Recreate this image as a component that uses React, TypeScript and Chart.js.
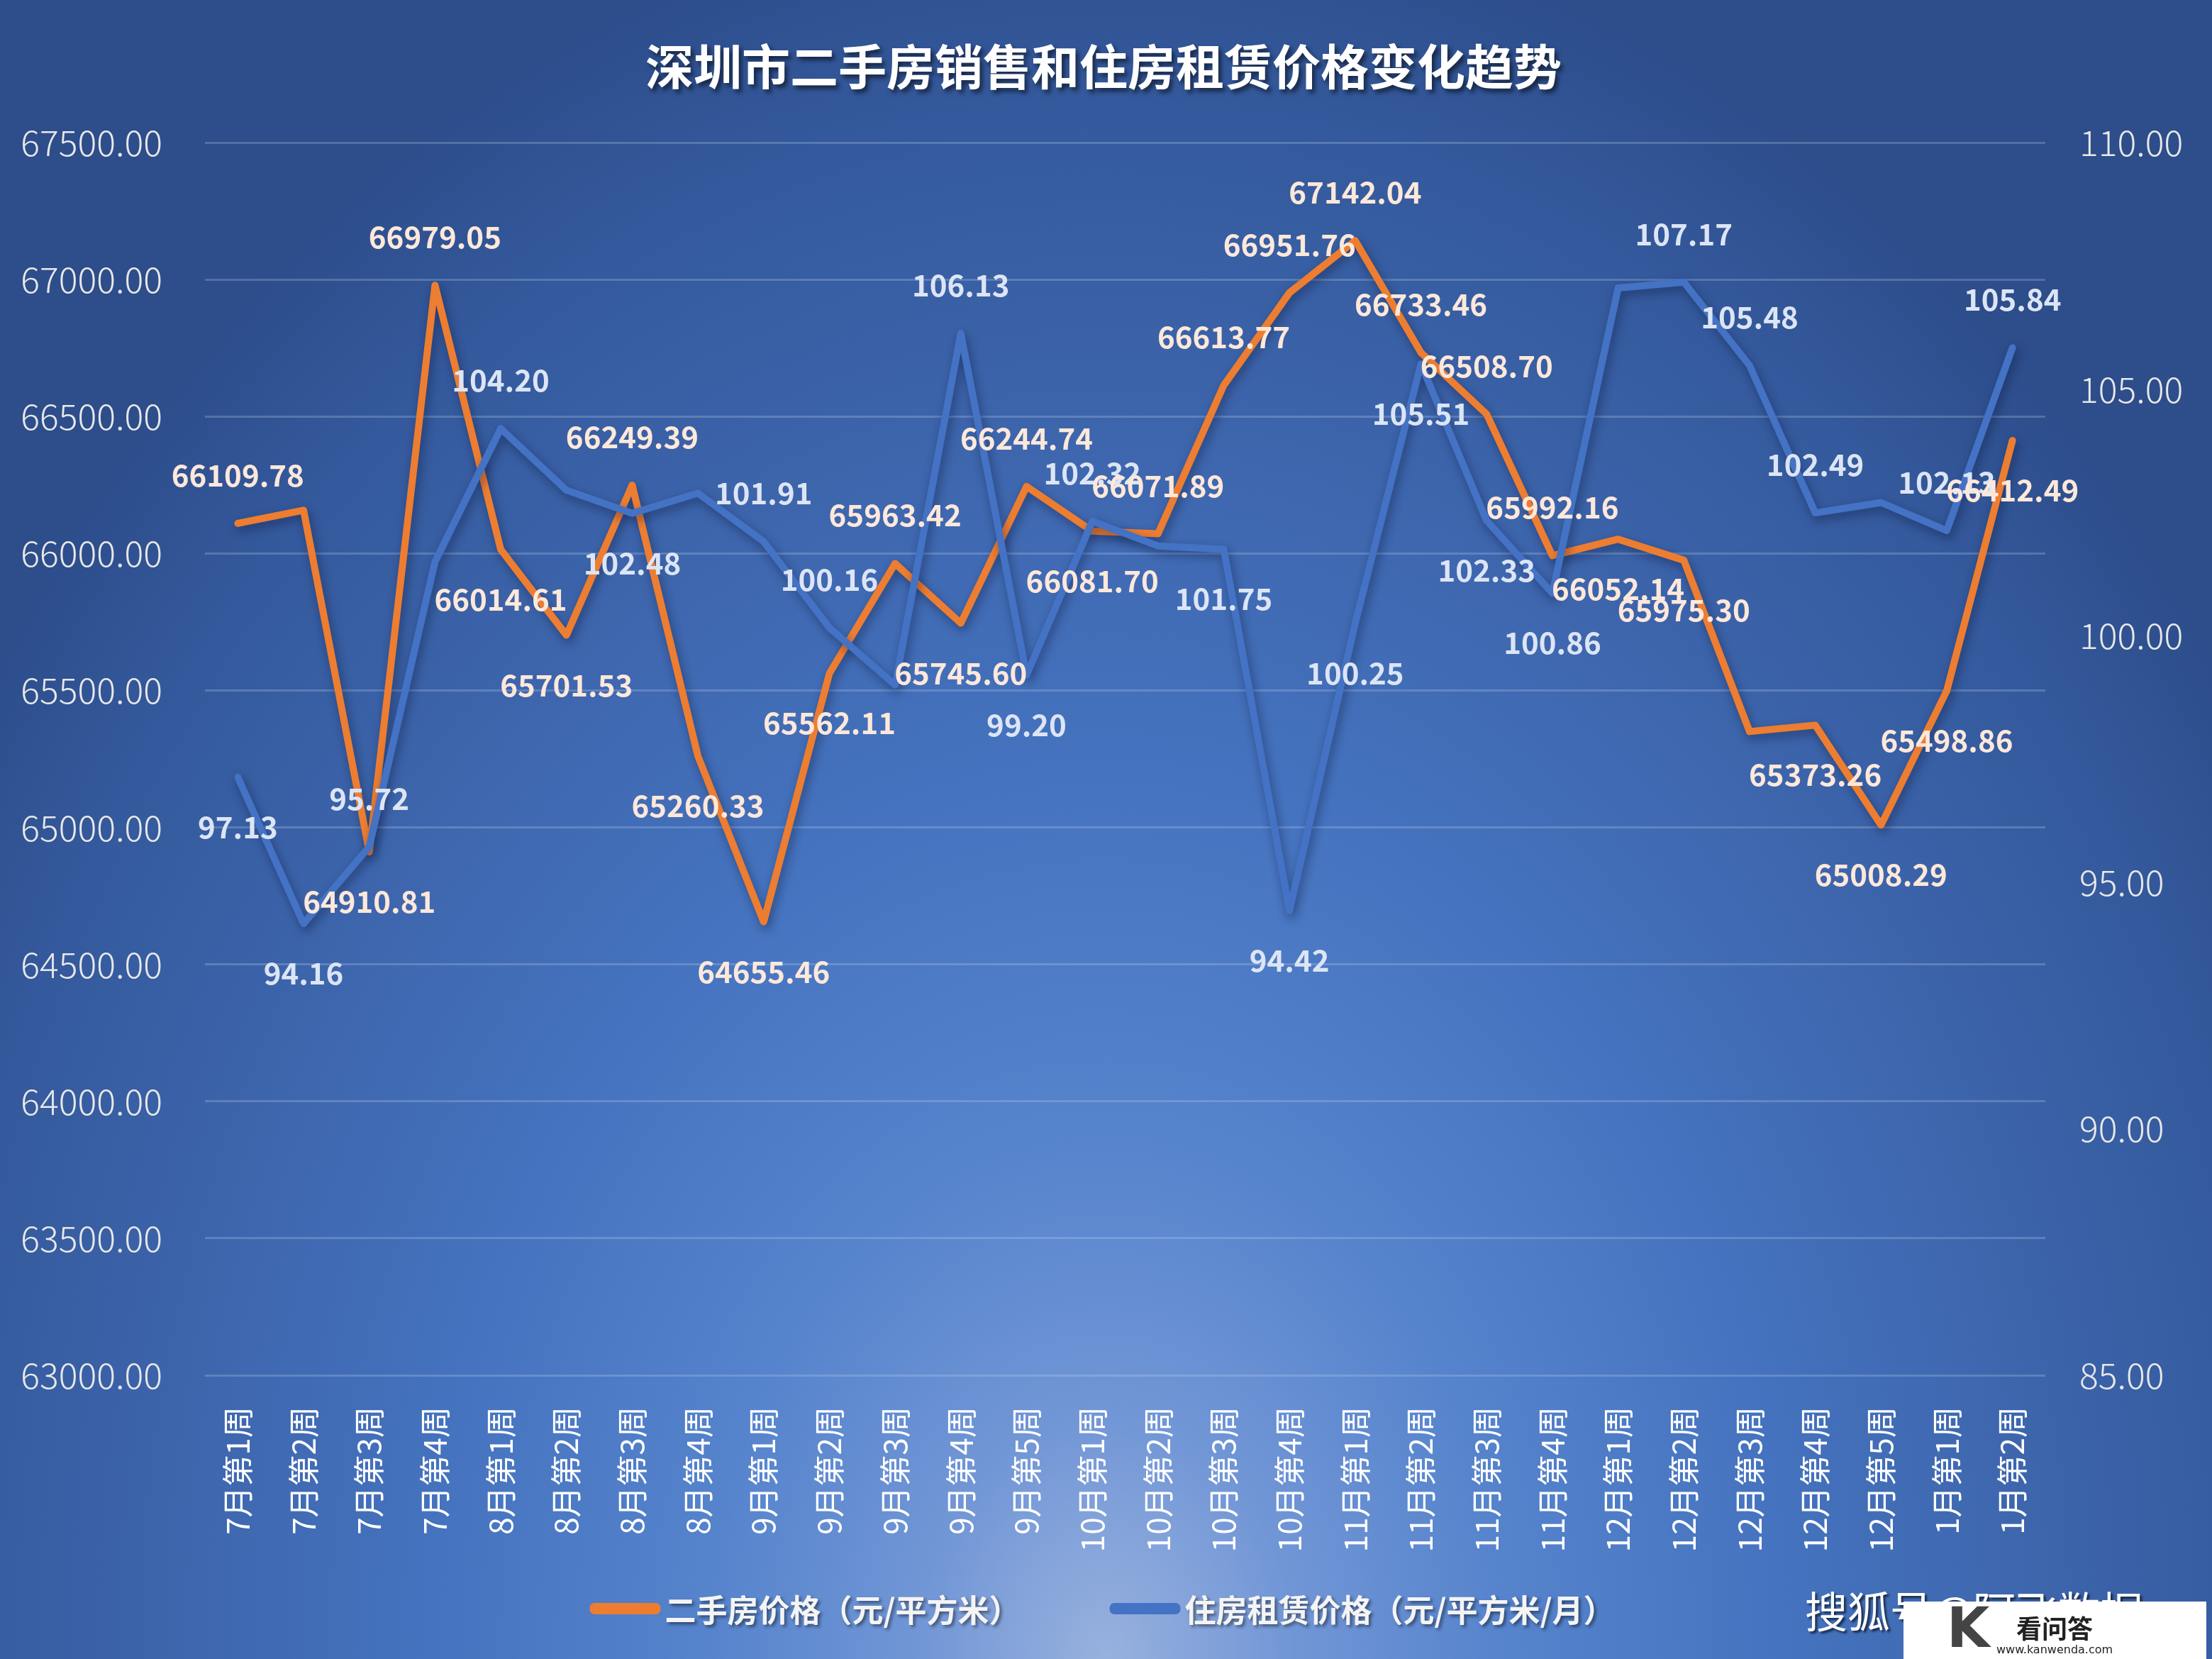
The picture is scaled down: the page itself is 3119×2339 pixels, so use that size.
import React, { useEffect, useRef } from 'react';
import { Chart, registerables } from 'chart.js';

Chart.register(...registerables);

const W = 3119;
const H = 2339;

const categories = [
  '7月第1周', '7月第2周', '7月第3周', '7月第4周',
  '8月第1周', '8月第2周', '8月第3周', '8月第4周',
  '9月第1周', '9月第2周', '9月第3周', '9月第4周', '9月第5周',
  '10月第1周', '10月第2周', '10月第3周', '10月第4周',
  '11月第1周', '11月第2周', '11月第3周', '11月第4周',
  '12月第1周', '12月第2周', '12月第3周', '12月第4周', '12月第5周',
  '1月第1周', '1月第2周',
];

const salePrice = [
  66109.78, 66158.0, 64910.81, 66979.05,
  66014.61, 65701.53, 66249.39, 65260.33,
  64655.46, 65562.11, 65963.42, 65745.6, 66244.74,
  66081.7, 66071.89, 66613.77, 66951.76,
  67142.04, 66733.46, 66508.7, 65992.16,
  66052.14, 65975.3, 65350.0, 65373.26, 65008.29,
  65498.86, 66412.49,
];

const rentPrice = [
  97.13, 94.16, 95.72, 101.5,
  104.2, 102.95, 102.48, 102.89,
  101.91, 100.16, 99.0, 106.13, 99.2,
  102.32, 101.82, 101.75, 94.42,
  100.25, 105.51, 102.33, 100.86,
  107.05, 107.17, 105.48, 102.49, 102.7,
  102.13, 105.84,
];

// where each value label sits relative to its point (null = no label)
const saleLabelPos = [
  'a', null, 'b', 'a', 'b', 'b', 'a', 'b', 'b', 'b', 'a', 'b', 'a',
  'b', 'a', 'a', 'a', 'a', 'a', 'a', 'a', 'b', 'b', null, 'b', 'b', 'b', 'b',
];
const rentLabelPos = [
  'b', 'b', 'a', null, 'a', null, 'b', null, 'a', 'a', null, 'a', 'b',
  'a', null, 'b', 'b', 'b', 'b', 'b', 'b', null, 'a', 'a', 'a', null, 'a', 'a',
];

const saleTicks = { min: 63000, max: 67500, step: 500 };
const rentTicks = { min: 85, max: 110, step: 5 };

const titleText = '深圳市二手房销售和住房租赁价格变化趋势';
const saleName = '二手房价格（元/平方米）';
const rentName = '住房租赁价格（元/平方米/月）';
const watermark = '搜狐号@阿飞数据';

const ORANGE = '#ed7d31';
const BLUE = '#4472c4';
const CJK = '"Noto Sans CJK SC", "Noto Sans", sans-serif';

const shadowPlugin = {
  id: 'lineShadow',
  beforeDatasetDraw(chart: any) {
    const ctx = chart.ctx;
    ctx.save();
    ctx.shadowColor = 'rgba(10,20,50,0.45)';
    ctx.shadowBlur = 14;
    ctx.shadowOffsetX = 3;
    ctx.shadowOffsetY = 6;
  },
  afterDatasetDraw(chart: any) {
    chart.ctx.restore();
  },
};

const valueLabelPlugin = {
  id: 'valueLabels',
  afterDatasetsDraw(chart: any) {
    const ctx = chart.ctx;
    const specs = [
      { ds: 1, pos: rentLabelPos, color: '#dce5f5' },
      { ds: 0, pos: saleLabelPos, color: '#fde8da' },
    ];
    ctx.save();
    ctx.font = `bold 42px ${CJK}`;
    ctx.textAlign = 'center';
    ctx.textBaseline = 'middle';
    for (const s of specs) {
      const meta = chart.getDatasetMeta(s.ds);
      const data = chart.data.datasets[s.ds].data as number[];
      meta.data.forEach((pt: any, i: number) => {
        const p = s.pos[i];
        if (!p) return;
        const y = p === 'a' ? pt.y - 68 : pt.y + 70;
        ctx.fillStyle = s.color;
        ctx.fillText(data[i].toFixed(2), pt.x, y);
      });
    }
    ctx.restore();
  },
};

const decorPlugin = {
  id: 'decor',
  afterDraw(chart: any) {
    const ctx = chart.ctx;
    ctx.save();
    // title
    ctx.font = `bold 68px ${CJK}`;
    ctx.textAlign = 'center';
    ctx.textBaseline = 'middle';
    ctx.shadowColor = 'rgba(0,0,0,0.55)';
    ctx.shadowBlur = 6;
    ctx.shadowOffsetX = 4;
    ctx.shadowOffsetY = 5;
    ctx.fillStyle = '#ffffff';
    ctx.fillText(titleText, 1556, 94);

    // legend
    ctx.font = `bold 44px ${CJK}`;
    ctx.textAlign = 'left';
    const w1 = ctx.measureText(saleName).width;
    const w2 = ctx.measureText(rentName).width;
    const sw = 100;
    const gapIn = 6;
    const gapOut = 126;
    const total = sw + gapIn + w1 + gapOut + sw + gapIn + w2;
    let x = 1554 - total / 2;
    const ly = 2268;
    const items = [
      { c: ORANGE, t: saleName, w: w1 },
      { c: BLUE, t: rentName, w: w2 },
    ];
    for (const it of items) {
      ctx.shadowColor = 'rgba(0,0,0,0)';
      ctx.fillStyle = it.c;
      ctx.beginPath();
      (ctx as any).roundRect(x, ly - 8, sw, 16, 7);
      ctx.fill();
      x += sw + gapIn;
      ctx.shadowColor = 'rgba(0,0,0,0.45)';
      ctx.shadowBlur = 4;
      ctx.shadowOffsetX = 3;
      ctx.shadowOffsetY = 3;
      ctx.fillStyle = '#f4f4f4';
      ctx.fillText(it.t, x, ly + 2);
      x += it.w + gapOut;
    }

    // watermark
    ctx.font = `60px ${CJK}`;
    ctx.fillStyle = '#ffffff';
    ctx.shadowColor = 'rgba(0,0,0,0.6)';
    ctx.shadowBlur = 3;
    ctx.fillText(watermark, 2545, 2272);
    ctx.shadowColor = 'rgba(0,0,0,0)';
    ctx.fillStyle = '#ffffff';
    ctx.fillRect(2684, 2258, 427, 81);
    ctx.fillStyle = '#444444';
    ctx.font = `bold 78px "DejaVu Sans", sans-serif`;
    ctx.fillText('K', 2745, 2302);
    ctx.fillStyle = '#222222';
    ctx.font = `bold 36px ${CJK}`;
    ctx.fillText('看问答', 2843, 2296);
    ctx.font = `16px "DejaVu Sans", sans-serif`;
    ctx.fillText('www.kanwenda.com', 2815, 2327);
    ctx.restore();
  },
};

export default function App() {
  const canvasRef = useRef<HTMLCanvasElement | null>(null);

  useEffect(() => {
    document.body.style.margin = '0';
    const canvas = canvasRef.current;
    if (!canvas) return;
    const tickFont = { family: CJK, size: 50, weight: '300' as any };
    const chart = new Chart(canvas, {
      type: 'line',
      data: {
        labels: categories,
        datasets: [
          {
            label: saleName,
            data: salePrice,
            yAxisID: 'y',
            borderColor: ORANGE,
            backgroundColor: ORANGE,
            borderWidth: 10,
            pointRadius: 0,
            tension: 0,
            borderCapStyle: 'round',
            borderJoinStyle: 'round',
            order: 1,
          },
          {
            label: rentName,
            data: rentPrice,
            yAxisID: 'y1',
            borderColor: BLUE,
            backgroundColor: BLUE,
            borderWidth: 10,
            pointRadius: 0,
            tension: 0,
            borderCapStyle: 'round',
            borderJoinStyle: 'round',
            order: 0,
          },
        ],
      },
      options: {
        animation: false,
        responsive: true,
        maintainAspectRatio: false,
        devicePixelRatio: 1,
        layout: { padding: { top: 201, left: 0, right: 0, bottom: 0 } },
        plugins: {
          legend: { display: false },
          title: { display: false },
          tooltip: { enabled: false },
        },
        scales: {
          x: {
            offset: true,
            grid: { display: false },
            border: { display: false },
            ticks: {
              autoSkip: false,
              minRotation: 90,
              maxRotation: 90,
              padding: 36,
              color: '#ffffff',
              font: { family: CJK, size: 44 },
            },
            afterFit: (s: any) => {
              s.height = 400;
            },
          },
          y: {
            position: 'left',
            min: saleTicks.min,
            max: saleTicks.max,
            grid: { color: 'rgba(200,215,240,0.25)', lineWidth: 3, drawTicks: false },
            border: { display: false },
            ticks: {
              stepSize: saleTicks.step,
              padding: 60,
              color: '#e8e8e8',
              font: tickFont,
              callback: (v: any) => Number(v).toFixed(2),
            },
            afterFit: (s: any) => {
              s.width = 289;
            },
          },
          y1: {
            position: 'right',
            min: rentTicks.min,
            max: rentTicks.max,
            grid: { display: false, drawTicks: false },
            border: { display: false },
            ticks: {
              stepSize: rentTicks.step,
              padding: 48,
              color: '#e8e8e8',
              font: tickFont,
              callback: (v: any) => Number(v).toFixed(2),
            },
            afterFit: (s: any) => {
              s.width = W - 2884;
            },
          },
        },
      },
      plugins: [shadowPlugin, valueLabelPlugin, decorPlugin],
    } as any);
    return () => chart.destroy();
  }, []);

  return (
    <div
      style={{
        width: W,
        height: H,
        position: 'relative',
        overflow: 'hidden',
        background:
          'radial-gradient(ellipse 1900px 2500px at 50% 100%, #98b1de 0%, #7196d6 14%, #5583cc 30%, #4573bf 50%, #3d65ac 70%, #34599c 88%, #2d4d8b 100%)',
      }}
    >
      <canvas ref={canvasRef} style={{ width: W, height: H, display: 'block' }} />
    </div>
  );
}
